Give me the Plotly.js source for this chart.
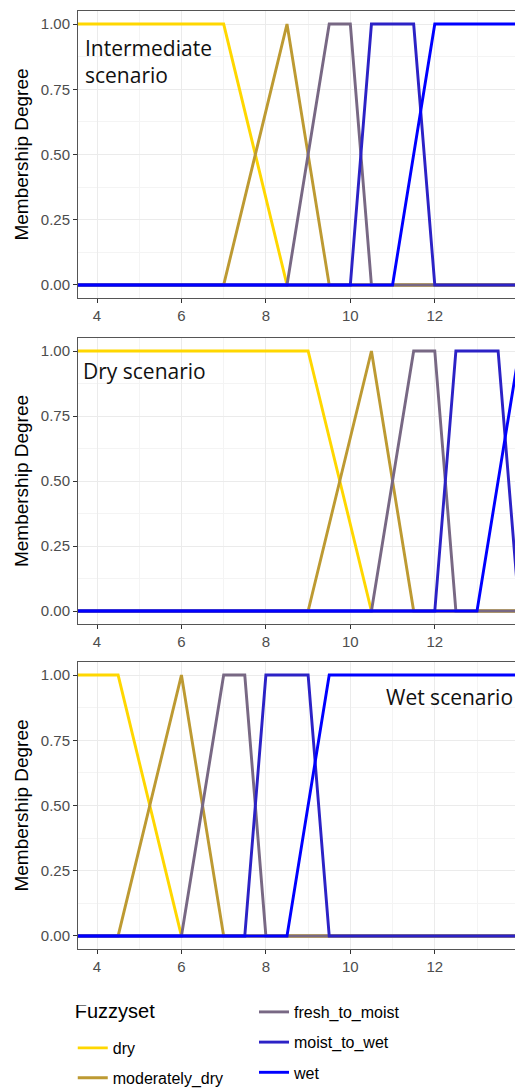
<!DOCTYPE html>
<html>
<head>
<meta charset="utf-8">
<script src="https://cdn.plot.ly/plotly-3.0.1.min.js"></script>
<style>html,body{margin:0;padding:0;background:#fff;}#chart{width:515px;height:1090px;}</style>
</head>
<body>
<div id="chart"></div>
<script>
// ---- data ----
const fuzzysets = ['dry', 'moderately_dry', 'fresh_to_moist', 'moist_to_wet', 'wet'];
const setColors = ['#FFD700', '#BD9A32', '#786884', '#2C22C6', '#0000FF'];
const scenarioLabels = ['Intermediate<br>scenario', 'Dry scenario', 'Wet scenario'];
const legendTitle = 'Fuzzyset';
const xTicks = [4, 6, 8, 10, 12];
const yTicks = [0, 0.25, 0.5, 0.75, 1];
const yTickText = ['0.00', '0.25', '0.50', '0.75', '1.00'];

// Intermediate scenario
const int_dry_x = [0, 7, 8.5, 20];               const int_dry_y = [1, 1, 0, 0];
const int_mod_x = [0, 7, 8.5, 9.5, 20];          const int_mod_y = [0, 0, 1, 0, 0];
const int_fresh_x = [0, 8.5, 9.5, 10, 10.5, 20]; const int_fresh_y = [0, 0, 1, 1, 0, 0];
const int_moist_x = [0, 10, 10.5, 11.5, 12, 20]; const int_moist_y = [0, 0, 1, 1, 0, 0];
const int_wet_x = [0, 11, 12, 20];               const int_wet_y = [0, 0, 1, 1];

// Dry scenario
const dry_dry_x = [0, 9, 10.5, 20];                const dry_dry_y = [1, 1, 0, 0];
const dry_mod_x = [0, 9, 10.5, 11.5, 20];          const dry_mod_y = [0, 0, 1, 0, 0];
const dry_fresh_x = [0, 10.5, 11.5, 12, 12.5, 20]; const dry_fresh_y = [0, 0, 1, 1, 0, 0];
const dry_moist_x = [0, 12, 12.5, 13.5, 14, 20];   const dry_moist_y = [0, 0, 1, 1, 0, 0];
const dry_wet_x = [0, 13, 14, 20];                 const dry_wet_y = [0, 0, 1, 1];

// Wet scenario
const wet_dry_x = [0, 4.5, 6, 20];              const wet_dry_y = [1, 1, 0, 0];
const wet_mod_x = [0, 4.5, 6, 7, 20];           const wet_mod_y = [0, 0, 1, 0, 0];
const wet_fresh_x = [0, 6, 7, 7.5, 8, 20];      const wet_fresh_y = [0, 0, 1, 1, 0, 0];
const wet_moist_x = [0, 7.5, 8, 9, 9.5, 20];    const wet_moist_y = [0, 0, 1, 1, 0, 0];
const wet_wet_x = [0, 8.5, 9.5, 20];            const wet_wet_y = [0, 0, 1, 1];

const panels = [
  [[int_dry_x, int_dry_y], [int_mod_x, int_mod_y], [int_fresh_x, int_fresh_y], [int_moist_x, int_moist_y], [int_wet_x, int_wet_y]],
  [[dry_dry_x, dry_dry_y], [dry_mod_x, dry_mod_y], [dry_fresh_x, dry_fresh_y], [dry_moist_x, dry_moist_y], [dry_wet_x, dry_wet_y]],
  [[wet_dry_x, wet_dry_y], [wet_mod_x, wet_mod_y], [wet_fresh_x, wet_fresh_y], [wet_moist_x, wet_moist_y], [wet_wet_x, wet_wet_y]]
];

// ---- build ----
const H = 1090;
const panelPx = [[11, 298], [338, 624], [662, 949]];
const traces = [];
panels.forEach((series, p) => {
  series.forEach((s, i) => {
    traces.push({
      type: 'scatter', mode: 'lines',
      x: s[0], y: s[1],
      name: fuzzysets[i],
      legendgroup: fuzzysets[i],
      legend: i < 2 ? 'legend' : 'legend2',
      showlegend: p === 0,
      line: {color: setColors[i], width: 2.9},
      xaxis: p === 0 ? 'x' : 'x' + (p + 1),
      yaxis: p === 0 ? 'y' : 'y' + (p + 1),
      hoverinfo: 'x+y+name'
    });
  });
});

const fontFam = 'Liberation Sans, Arial, sans-serif';
function xa(p) {
  return {
    domain: [0, 1], range: [3.55, 13.9], anchor: p === 0 ? 'y' : 'y' + (p + 1),
    tickvals: xTicks, ticktext: xTicks.map(String),
    ticks: 'outside', ticklen: 4, tickcolor: '#333', tickwidth: 1,
    tickfont: {family: fontFam, size: 15, color: '#4d4d4d'},
    showgrid: true, gridcolor: '#ebebeb', gridwidth: 1,
    minor: {dtick: 1, tick0: 0, showgrid: true, gridcolor: '#f4f4f4', gridwidth: 1},
    showline: true, linecolor: '#555', linewidth: 1, mirror: true,
    zeroline: false, fixedrange: true
  };
}
function ya(p) {
  const px = panelPx[p];
  return {
    domain: [1 - px[1] / H, 1 - px[0] / H], range: [-0.05, 1.05],
    anchor: p === 0 ? 'x' : 'x' + (p + 1),
    tickvals: yTicks, ticktext: yTickText,
    ticks: 'outside', ticklen: 4, tickcolor: '#333', tickwidth: 1,
    tickfont: {family: fontFam, size: 15, color: '#4d4d4d'},
    showgrid: true, gridcolor: '#ebebeb', gridwidth: 1,
    minor: {dtick: 0.125, tick0: 0, showgrid: true, gridcolor: '#f4f4f4', gridwidth: 1},
    showline: true, linecolor: '#555', linewidth: 1, mirror: false,
    zeroline: false, fixedrange: true,
    title: {text: 'Membership Degree', font: {family: fontFam, size: 19, color: '#000'}, standoff: 7}
  };
}

const annFont = {family: 'Open Sans, sans-serif', size: 21, color: '#111'};
const layout = {
  width: 515, height: 1090,
  margin: {l: 78, r: 0, t: 0, b: 0, autoexpand: false},
  paper_bgcolor: '#fff', plot_bgcolor: '#fff',
  xaxis: xa(0), xaxis2: xa(1), xaxis3: xa(2),
  yaxis: ya(0), yaxis2: ya(1), yaxis3: ya(2),
  legend: {
    x: -0.012, xanchor: 'left', y: 1 - 1005 / H, yanchor: 'top',
    orientation: 'v', bgcolor: 'rgba(0,0,0,0)',
    title: {text: '<span style="font-size:20px">' + legendTitle + '</span><br>&nbsp;', side: 'top', font: {family: fontFam, size: 10, color: '#000'}},
    font: {family: fontFam, size: 16, color: '#000'},
    tracegroupgap: 6
  },
  legend2: {
    x: (254 - 78) / 437, xanchor: 'left', y: 1 - 995 / H, yanchor: 'top',
    orientation: 'v', bgcolor: 'rgba(0,0,0,0)',
    font: {family: fontFam, size: 16, color: '#000'},
    tracegroupgap: 6.4
  },
  annotations: [
    {text: scenarioLabels[0], xref: 'x domain', yref: 'y domain', x: 0.012, y: 0.8223, xanchor: 'left', yanchor: 'middle', align: 'left', showarrow: false, font: annFont},
    {text: scenarioLabels[1], xref: 'x2 domain', yref: 'y2 domain', x: 0.006, y: 0.885, xanchor: 'left', yanchor: 'middle', align: 'left', showarrow: false, font: annFont},
    {text: scenarioLabels[2], xref: 'x3 domain', yref: 'y3 domain', x: 0.70, y: 0.878, xanchor: 'left', yanchor: 'middle', align: 'left', showarrow: false, font: annFont}
  ],
  showlegend: true
};

Plotly.newPlot('chart', traces, layout, {displayModeBar: false});
</script>
</body>
</html>
